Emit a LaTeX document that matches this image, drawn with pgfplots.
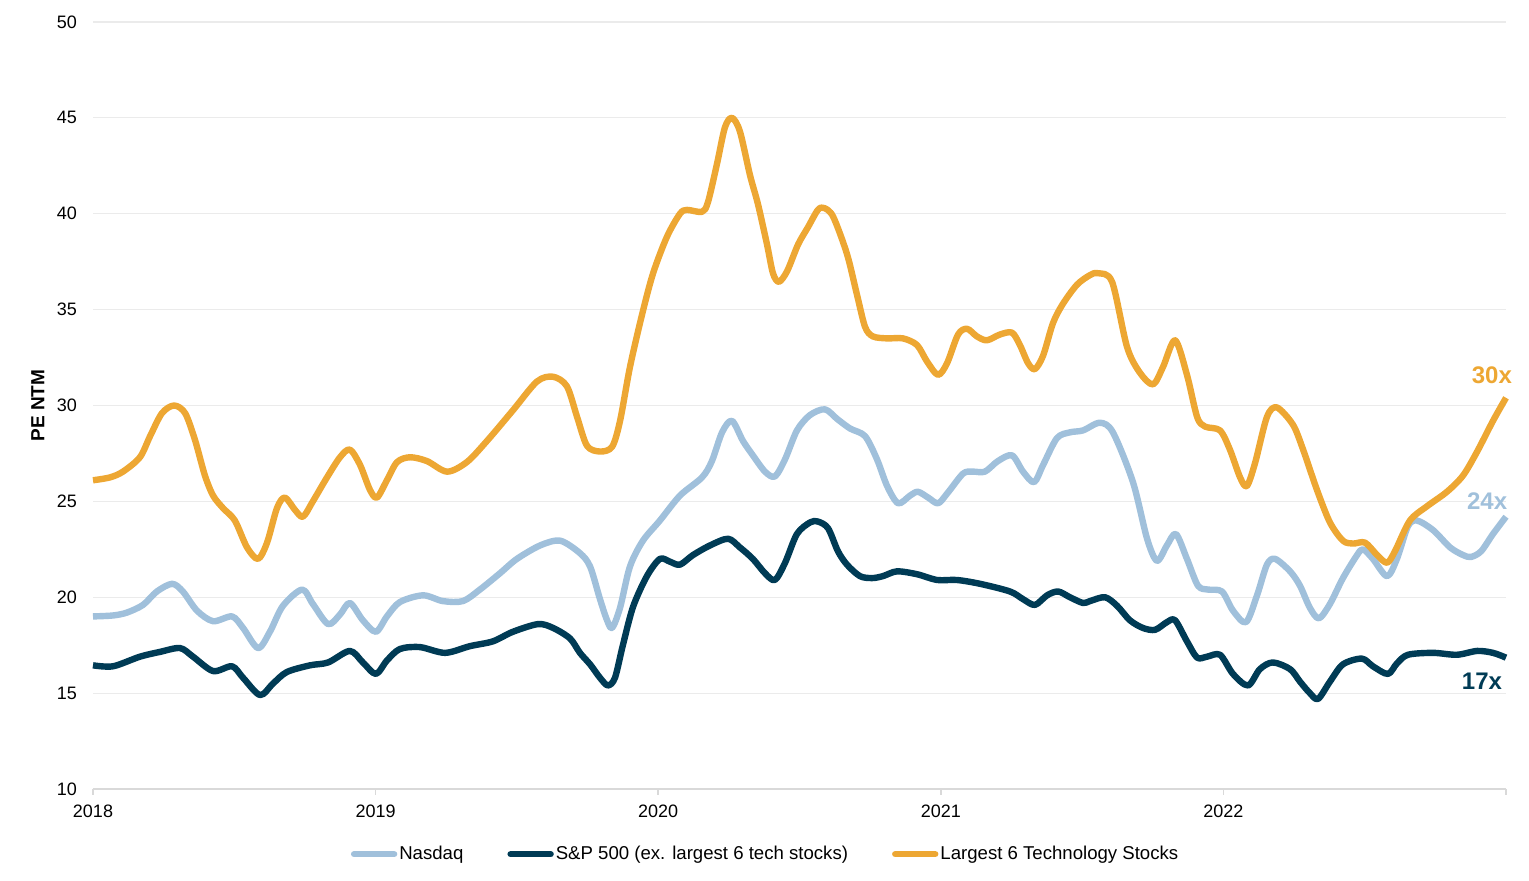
\documentclass[border=0pt]{standalone}
\usepackage{pgfplots}
\pgfplotsset{compat=1.18}
\usepackage{fontspec}
\setmainfont{Liberation Sans}
\definecolor{nasdaq}{HTML}{A0C0DB}
\definecolor{spx}{HTML}{003B55}
\definecolor{big6}{HTML}{EDA733}
\definecolor{gridgray}{HTML}{EBEBEB}
\definecolor{axisgray}{HTML}{D9D9D9}
\begin{document}
\begin{tikzpicture}
\path[use as bounding box] (-46.5pt,-46pt) rectangle (718pt,394.5pt);
\begin{axis}[
  scale only axis, width=706.5pt, height=383.5pt,
  xmin=0, xmax=5, ymin=10, ymax=50,
  clip=false,
  separate axis lines,
  axis x line*=bottom, axis y line*=left,
  x axis line style={-, draw=axisgray, line width=0.8pt},
  y axis line style={draw=none},
  ymajorgrids, grid style={gridgray, line width=0.6pt},
  ytick={10,15,...,50}, ytick style={draw=none},
  yticklabel style={xshift=-4.5pt},
  xtick={0,1,2,3,4,5}, xticklabels={2018,2019,2020,2021,2022,},
  xticklabel style={yshift=-1.5pt},
  xtick style={draw=axisgray, line width=0.8pt},
  xtick align=outside, major tick length=3pt,
  tick label style={font=\fontsize{9}{10}\selectfont},
  /pgf/number format/assume math mode=true,
  ylabel={\bfseries PE NTM},
  ylabel style={at={(axis description cs:-0.039,0.5)}, anchor=center, font=\fontsize{9.5}{10}\selectfont},
  legend style={at={(axis description cs:0.476,-0.085)}, anchor=center, draw=none, fill=none,
    legend columns=-1, font=\fontsize{9.3}{10}\selectfont,
    nodes={inner xsep=1pt},
    /tikz/every even column/.append style={column sep=21pt}},
  legend image code/.code={\draw[#1, line width=3.2pt, line cap=round] (0pt,0pt) -- (20pt,0pt);},
  every axis plot/.append style={line width=3.2pt, line join=round, smooth},
]
% Nasdaq
\addplot[nasdaq] coordinates {
(0.000,19.0)(0.071,19.05)(0.120,19.2)(0.177,19.6)(0.226,20.3)(0.280,20.7)(0.318,20.3)
(0.368,19.3)(0.425,18.75)(0.492,19.0)(0.531,18.4)(0.584,17.35)(0.626,18.2)(0.672,19.55)
(0.740,20.4)(0.778,19.65)(0.832,18.6)(0.874,19.1)(0.909,19.7)(0.955,18.8)(1.001,18.2)
(1.040,19.0)(1.086,19.75)(1.168,20.1)(1.238,19.8)(1.309,19.8)(1.369,20.4)(1.440,21.25)
(1.500,22.0)(1.582,22.7)(1.653,22.95)(1.723,22.3)(1.759,21.6)(1.794,19.9)(1.819,18.8)
(1.837,18.4)(1.865,19.45)(1.900,21.6)(1.946,22.95)(2.006,24.0)(2.077,25.3)(2.155,26.25)
(2.190,27.1)(2.226,28.6)(2.261,29.2)(2.300,28.15)(2.335,27.4)(2.378,26.55)(2.413,26.3)
(2.449,27.2)(2.491,28.7)(2.537,29.5)(2.590,29.8)(2.633,29.3)(2.679,28.8)(2.732,28.4)
(2.774,27.2)(2.810,25.8)(2.849,24.9)(2.891,25.3)(2.919,25.5)(2.955,25.2)(2.990,24.9)
(3.022,25.4)(3.079,26.45)(3.114,26.55)(3.156,26.55)(3.202,27.1)(3.252,27.4)(3.291,26.55)
(3.330,26.0)(3.362,26.9)(3.411,28.3)(3.457,28.6)(3.503,28.7)(3.563,29.1)(3.609,28.6)
(3.680,26.0)(3.730,23.05)(3.765,21.9)(3.800,22.7)(3.832,23.3)(3.871,22.0)(3.910,20.6)
(3.946,20.4)(3.995,20.3)(4.034,19.3)(4.080,18.7)(4.119,20.1)(4.154,21.7)(4.183,22.0)
(4.236,21.35)(4.271,20.6)(4.306,19.45)(4.338,18.9)(4.377,19.65)(4.423,21.0)(4.473,22.2)
(4.494,22.5)(4.529,22.0)(4.579,21.1)(4.614,22.0)(4.653,23.7)(4.685,24.0)(4.742,23.5)
(4.802,22.6)(4.848,22.2)(4.876,22.1)(4.912,22.4)(4.954,23.3)(5.000,24.2)
};
\addlegendentry{Nasdaq}
% S&P 500 ex largest 6
\addplot[spx] coordinates {
(0.000,16.45)(0.071,16.4)(0.166,16.9)(0.237,17.15)(0.308,17.35)(0.354,16.9)(0.425,16.15)
(0.492,16.4)(0.531,15.8)(0.591,14.9)(0.637,15.5)(0.686,16.1)(0.768,16.45)(0.832,16.6)
(0.909,17.2)(0.955,16.6)(1.001,16.0)(1.040,16.7)(1.086,17.3)(1.157,17.4)(1.246,17.1)
(1.334,17.45)(1.415,17.7)(1.486,18.2)(1.575,18.6)(1.628,18.4)(1.688,17.85)(1.723,17.1)
(1.759,16.5)(1.794,15.8)(1.822,15.4)(1.847,15.8)(1.875,17.5)(1.911,19.5)(1.960,21.1)
(2.006,22.0)(2.042,21.85)(2.077,21.7)(2.123,22.2)(2.183,22.7)(2.247,23.05)(2.289,22.6)
(2.335,22.0)(2.378,21.25)(2.413,20.9)(2.449,21.8)(2.491,23.3)(2.537,23.9)(2.565,23.95)
(2.601,23.6)(2.636,22.4)(2.668,21.7)(2.714,21.1)(2.757,21.0)(2.795,21.1)(2.845,21.35)
(2.916,21.2)(2.987,20.9)(3.057,20.9)(3.139,20.7)(3.245,20.3)(3.291,19.9)(3.333,19.6)
(3.376,20.1)(3.415,20.3)(3.457,20.0)(3.503,19.7)(3.528,19.8)(3.581,20.0)(3.624,19.55)
(3.669,18.8)(3.715,18.4)(3.758,18.3)(3.800,18.7)(3.829,18.8)(3.871,17.7)(3.907,16.85)
(3.942,16.9)(3.988,17.0)(4.034,16.0)(4.087,15.4)(4.129,16.25)(4.175,16.6)(4.236,16.25)
(4.271,15.6)(4.306,15.0)(4.335,14.7)(4.377,15.6)(4.423,16.5)(4.490,16.8)(4.529,16.4)
(4.582,16.0)(4.614,16.55)(4.653,17.0)(4.742,17.1)(4.826,17.0)(4.898,17.2)(4.954,17.1)
(5.000,16.85)
};
\addlegendentry{S\&P 500 (ex. largest 6 tech stocks)}
% Largest 6 technology stocks
\addplot[big6] coordinates {
(0.000,26.1)(0.060,26.25)(0.106,26.55)(0.166,27.3)(0.202,28.4)(0.244,29.6)(0.287,30.0)
(0.326,29.6)(0.361,28.2)(0.396,26.35)(0.425,25.3)(0.460,24.65)(0.502,24.0)(0.545,22.6)
(0.584,22.0)(0.616,22.85)(0.651,24.65)(0.679,25.2)(0.715,24.55)(0.743,24.2)(0.778,25.0)
(0.828,26.25)(0.874,27.3)(0.909,27.7)(0.945,26.9)(0.980,25.6)(1.005,25.2)(1.040,26.1)
(1.076,27.05)(1.122,27.3)(1.182,27.1)(1.253,26.55)(1.323,27.05)(1.394,28.15)(1.486,29.75)
(1.571,31.25)(1.628,31.5)(1.677,31.0)(1.713,29.4)(1.748,27.9)(1.794,27.6)(1.837,27.85)
(1.865,29.2)(1.900,32.0)(1.943,34.75)(1.982,36.9)(2.031,38.8)(2.077,40.0)(2.102,40.2)
(2.155,40.1)(2.176,40.6)(2.208,42.6)(2.236,44.5)(2.261,45.0)(2.289,44.3)(2.325,42.0)
(2.353,40.5)(2.385,38.4)(2.406,36.9)(2.427,36.45)(2.456,37.0)(2.495,38.4)(2.530,39.3)
(2.565,40.2)(2.587,40.3)(2.619,39.85)(2.668,37.9)(2.703,35.8)(2.732,34.1)(2.760,33.6)
(2.810,33.5)(2.866,33.5)(2.916,33.15)(2.951,32.3)(2.990,31.6)(3.022,32.2)(3.061,33.7)
(3.093,34.0)(3.128,33.6)(3.163,33.4)(3.209,33.7)(3.252,33.8)(3.280,33.15)(3.309,32.2)
(3.333,31.9)(3.362,32.6)(3.397,34.3)(3.432,35.3)(3.482,36.3)(3.528,36.8)(3.556,36.9)
(3.606,36.45)(3.659,33.05)(3.705,31.7)(3.751,31.1)(3.786,32.0)(3.829,33.4)(3.871,31.6)
(3.907,29.4)(3.935,28.9)(3.988,28.7)(4.023,27.7)(4.059,26.25)(4.083,25.8)(4.112,27.0)
(4.154,29.4)(4.189,29.9)(4.246,29.0)(4.282,27.7)(4.331,25.6)(4.377,23.9)(4.423,22.95)
(4.459,22.8)(4.501,22.85)(4.544,22.2)(4.579,21.8)(4.607,22.4)(4.660,24.0)(4.721,24.75)
(4.791,25.5)(4.848,26.35)(4.898,27.6)(4.954,29.2)(5.000,30.4)
};
\addlegendentry{Largest 6 Technology Stocks}
\node[font=\fontsize{12}{14}\selectfont\bfseries, text=big6] at (axis cs:4.950,31.6) {30x};
\node[font=\fontsize{12}{14}\selectfont\bfseries, text=nasdaq] at (axis cs:4.933,25.0) {24x};
\node[font=\fontsize{12}{14}\selectfont\bfseries, text=spx] at (axis cs:4.915,15.6) {17x};
\end{axis}
\end{tikzpicture}
\end{document}
